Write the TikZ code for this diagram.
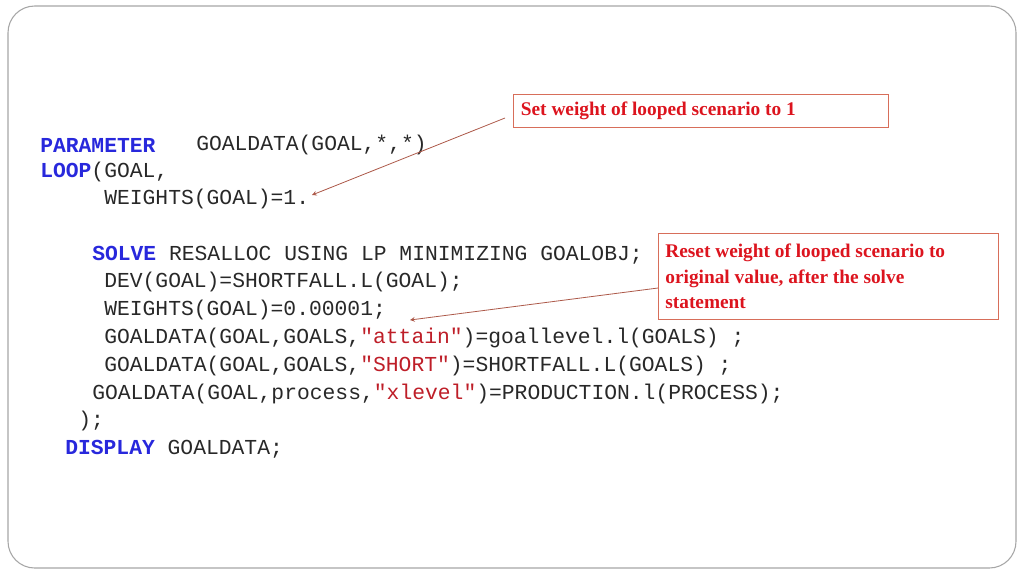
\documentclass[tikz,border=0pt]{standalone}
\usepackage{fontspec}
\setmonofont{Liberation Mono}
\setmainfont{Liberation Serif}
\usetikzlibrary{positioning}
\tikzset{>=stealth}
\definecolor{kw}{RGB}{40,40,220}
\definecolor{str}{RGB}{190,30,40}
\definecolor{code}{RGB}{40,40,40}
\definecolor{note}{RGB}{220,20,30}
\definecolor{notebox}{RGB}{215,110,90}
\tikzset{
  codeline/.style={anchor=west, inner sep=0pt, font=\ttfamily\fontsize{16}{16}\selectfont, text=code},
  notebox/.style={draw=notebox, line width=0.6pt, anchor=north west, inner sep=4pt, align=flush left,
    font=\bfseries\fontsize{14.5}{19}\selectfont, text=note}
}
\newcommand{\kw}[1]{\textcolor{kw}{\bfseries #1}}
\newcommand{\str}[1]{\textcolor{str}{#1}}
\begin{document}
\begin{tikzpicture}[x=0.75pt,y=-0.75pt]
        \useasboundingbox (0,0) rectangle (1024,576);
        %frame
        \draw[gray!70, line width=0.8pt, rounded corners=20] (8,6) rectangle (1016,568);

        %code
        \node[codeline] (param) at (40,145) {\kw{PARAMETER}};
        \node[codeline] (gdata) at (196,145) {GOALDATA(GOAL,*,*)};
        \node[codeline] (loop) at (40,172) {\kw{LOOP}(GOAL,};
        \node[codeline] (wone) at (104,199) {WEIGHTS(GOAL)=1.};
        \node[codeline] (solve) at (92,255) {\kw{SOLVE} RESALLOC USING LP MINIMIZING GOALOBJ;};
        \node[codeline] (dev) at (104,282) {DEV(GOAL)=SHORTFALL.L(GOAL);};
        \node[codeline] (wsmall) at (104,310) {WEIGHTS(GOAL)=0.00001;};
        \node[codeline] (attain) at (104,338) {GOALDATA(GOAL,GOALS,\str{"attain"})=goallevel.l(GOALS) ;};
        \node[codeline] (short) at (104,366) {GOALDATA(GOAL,GOALS,\str{"SHORT"})=SHORTFALL.L(GOALS) ;};
        \node[codeline] (xlev) at (92,394) {GOALDATA(GOAL,process,\str{"xlevel"})=PRODUCTION.l(PROCESS);};
        \node[codeline] (close) at (78,421) {);};
        \node[codeline] (disp) at (65,449) {\kw{DISPLAY} GOALDATA;};

        %notes
        \node[notebox, minimum width=375*0.75pt, minimum height=33*0.75pt, text width=360*0.75pt] (setw) at (513,94) {Set weight of looped scenario to 1};
        \node[notebox, minimum width=340*0.75pt, minimum height=86*0.75pt, text width=326*0.75pt] (resetw) at (658,233) {Reset weight of looped scenario to\\ original value, after the solve\\ statement};

        %arrows
        \coordinate (tipone) at (312,195);
        \coordinate (tiptwo) at (410,320);
        \draw[->, notebox!80!black, line width=0.6pt] (setw.west |- 0,118) ++(-8,0) -- (tipone);
        \draw[->, notebox!80!black, line width=0.6pt] (resetw.west |- 0,288) -- (tiptwo);
\end{tikzpicture}
\end{document}
